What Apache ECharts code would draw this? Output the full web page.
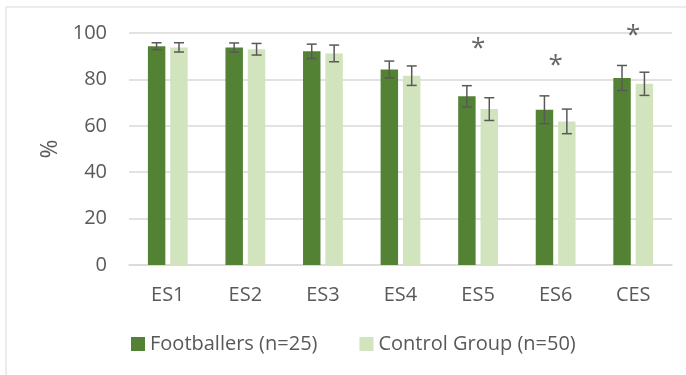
<!DOCTYPE html>
<html>
<head>
<meta charset="utf-8">
<script src="https://cdn.jsdelivr.net/npm/echarts@6/dist/echarts.min.js"></script>
<style>
  html, body { margin: 0; padding: 0; background: #fff; }
  #chart { width: 686px; height: 375px; }
</style>
</head>
<body>
<div id="chart"></div>
<script>
// data
const categories = ['ES1', 'ES2', 'ES3', 'ES4', 'ES5', 'ES6', 'CES']
const footballers = [94.3, 93.7, 92.1, 84.3, 72.7, 66.9, 80.6]
const footballersErr = [1.5, 2.0, 3.1, 3.6, 4.6, 6.0, 5.4]
const control = [93.8, 93.0, 91.2, 81.6, 67.2, 61.9, 78.1]
const controlErr = [2.0, 2.5, 3.6, 4.2, 4.9, 5.3, 5.0]
// significance markers (y position of the asterisk), null = none
const stars = [null, null, null, null, 95, 87.5, 100.5]
const yTicks = [0, 20, 40, 60, 80, 100]

const DARK = '#548235'
const LIGHT = '#d2e4bd'
const TEXT = '#595959'

const chart = echarts.init(document.getElementById('chart'))

// error bar drawn over one bar of the pair
function errorBars(values, errs, side) {
    return {
        type: 'custom',
        z: 10,
        silent: true,
        data: values.map((v, i) => [i, v - errs[i], v + errs[i]]),
        renderItem: function (params, api) {
            const lo = api.coord([api.value(0), api.value(1)])
            const hi = api.coord([api.value(0), api.value(2)])
            const band = api.size([1, 0])[0]
            const bw = band * 0.225
            const x = lo[0] + side * (bw / 2 + band * 0.032)
            const cap = 5
            const style = { stroke: TEXT, lineWidth: 1.5 }
            return {
                type: 'group',
                children: [
                    { type: 'line', shape: { x1: x, y1: lo[1], x2: x, y2: hi[1] }, style },
                    { type: 'line', shape: { x1: x - cap, y1: lo[1], x2: x + cap, y2: lo[1] }, style },
                    { type: 'line', shape: { x1: x - cap, y1: hi[1], x2: x + cap, y2: hi[1] }, style }
                ]
            }
        }
    }
}

chart.setOption({
    animation: false,
    textStyle: { fontFamily: 'Open Sans' },
    graphic: [{
        type: 'rect',
        shape: { x: 6, y: 7, width: 700, height: 400 },
        style: { fill: 'none', stroke: '#d9d9d9', lineWidth: 1 },
        silent: true
    }],
    grid: { left: 129, right: 14, top: 33, bottom: 110 },
    legend: {
        top: 329,
        left: 126,
        itemWidth: 14,
        itemHeight: 14,
        itemGap: 42,
        icon: 'rect',
        textStyle: { color: TEXT, fontSize: 20, fontFamily: 'Open Sans' },
        data: ['Footballers (n=25)', 'Control Group (n=50)']
    },
    xAxis: {
        type: 'category',
        data: categories,
        axisLine: { lineStyle: { color: '#d9d9d9', width: 1.5 } },
        axisTick: { show: false },
        axisLabel: { color: TEXT, fontSize: 20, margin: 20 }
    },
    yAxis: {
        type: 'value',
        min: 0,
        max: 100,
        interval: 20,
        name: '%',
        nameLocation: 'middle',
        nameGap: 66,
        nameRotate: 90,
        nameTextStyle: { color: TEXT, fontSize: 23 },
        axisLabel: {
            color: TEXT,
            fontSize: 20,
            margin: 22,
            formatter: v => yTicks.includes(v) ? String(v) : ''
        },
        splitLine: { lineStyle: { color: '#d9d9d9', width: 1.5 } }
    },
    series: [
        {
            name: 'Footballers (n=25)',
            type: 'bar',
            data: footballers,
            itemStyle: { color: DARK },
            barWidth: '22.5%',
            barGap: '28%'
        },
        {
            name: 'Control Group (n=50)',
            type: 'bar',
            data: control,
            itemStyle: { color: LIGHT },
            barWidth: '22.5%'
        },
        errorBars(footballers, footballersErr, -1),
        errorBars(control, controlErr, 1),
        {
            type: 'scatter',
            silent: true,
            clip: false,
            symbolSize: 1,
            itemStyle: { color: 'rgba(0,0,0,0)' },
            data: stars.map((v, i) => v == null ? null : [i, v]).filter(d => d),
            label: {
                show: true,
                position: 'inside',
                formatter: '*',
                color: '#404040',
                fontSize: 26,
                offset: [0, 4]
            },
            z: 12
        }
    ]
})
</script>
</body>
</html>
